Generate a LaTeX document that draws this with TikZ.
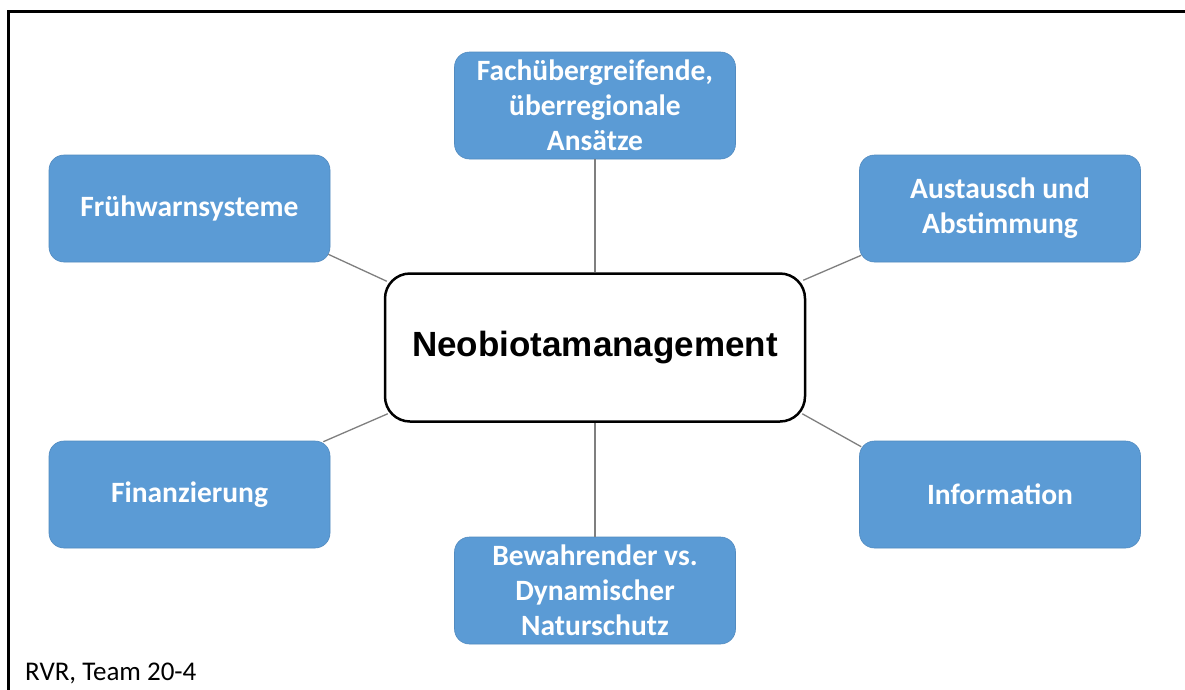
\documentclass[tikz,border=0pt]{standalone}
\usepackage{fontspec}
\setmainfont{Carlito}
\newfontfamily\arialfont{Liberation Sans}
\definecolor{boxblue}{HTML}{5B9BD5}
\definecolor{linegray}{HTML}{7F7F7F}
\begin{document}
\begin{tikzpicture}[x=1pt,y=-1pt,
  bluebox/.style={draw=boxblue!90!black, line width=0.6pt, fill=boxblue, rounded corners=15pt,
    minimum width=281pt, minimum height=107pt, inner sep=0pt, align=center, text=white,
    font=\bfseries\fontsize{29.5}{35}\selectfont},
  centerbox/.style={draw=black, line width=2.5pt, fill=white, rounded corners=25pt,
    minimum width=420pt, minimum height=148pt, inner sep=0pt,
    font=\arialfont\bfseries\fontsize{35}{42}\selectfont},
  conn/.style={draw=linegray, line width=1.3pt}]
\useasboundingbox (0,0) rectangle (1185,689);
\fill[white] (0,0) rectangle (1185,689);
% outer frame (extends beyond right and bottom edges)
\draw[line width=3pt] (8,700) -- (8,11) -- (1200,11);
% nodes
\node[centerbox] (c) at (595,347.5) {Neobiotamanagement};
\node[bluebox] (top) at (595,105.5) {Fachübergreifende,\\überregionale\\Ansätze};
\node[bluebox] (fw) at (189.5,208.5) {Frühwarnsysteme};
\node[bluebox] (au) at (1000,208.5) {Austausch und\\Abstimmung};
\node[bluebox] (fi) at (189.5,494.5) {Finanzierung};
\node[bluebox] (inf) at (1000,494.5) {Information};
\node[bluebox] (bot) at (595,590.5) {Bewahrender vs.\\Dynamischer\\Naturschutz};
% connectors
\draw[conn] (top.south) -- (c.north);
\draw[conn] (c.south) -- (bot.north);
\draw[conn] ([shift={(-2,-8)}]fw.south east) -- ([shift={(3,9)}]c.north west);
\draw[conn] ([shift={(2,-7)}]au.south west) -- ([shift={(-3,8)}]c.north east);
\draw[conn] ([shift={(-7,1)}]fi.north east) -- ([shift={(4,-9)}]c.south west);
\draw[conn] ([shift={(2,6)}]inf.north west) -- ([shift={(-4,-9)}]c.south east);
% caption
\node[anchor=base west, inner sep=0pt, font=\fontsize{27}{31}\selectfont] (cap) at (25,680) {RVR, Team 20-4};
\end{tikzpicture}
\end{document}
